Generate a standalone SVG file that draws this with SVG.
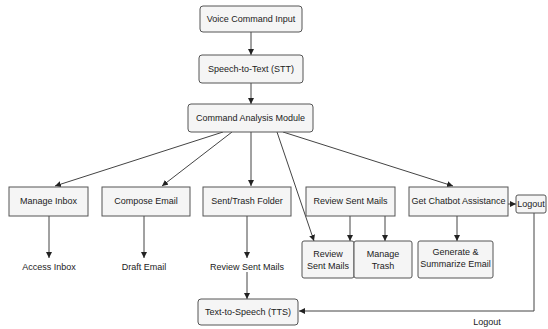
<svg xmlns="http://www.w3.org/2000/svg" width="548" height="329" viewBox="0 0 548 329">
<style>
.box{fill:#f5f5f5;stroke:#555;stroke-width:1}
.t{font-family:"Liberation Sans",Arial,sans-serif;font-size:9px;fill:#222;text-anchor:middle}
.c{fill:none;stroke:#444;stroke-width:1}
</style>
<defs>
<marker id="ah" viewBox="0 0 8 8" refX="8" refY="4" markerWidth="6" markerHeight="6" orient="auto" markerUnits="userSpaceOnUse">
<path d="M0,0 L8,4 L0,8 z" fill="#222"/>
</marker>
</defs>
<rect width="548" height="329" fill="#fff"/>
<g id="connectors">
<line class="c" x1="251" y1="32" x2="251" y2="55" marker-end="url(#ah)"/>
<line class="c" x1="251" y1="83" x2="251" y2="104" marker-end="url(#ah)"/>
<line class="c" x1="223" y1="132" x2="55" y2="186" marker-end="url(#ah)"/>
<line class="c" x1="232" y1="132" x2="162" y2="186" marker-end="url(#ah)"/>
<line class="c" x1="251" y1="132" x2="251" y2="186" marker-end="url(#ah)"/>
<line class="c" x1="277" y1="132" x2="314" y2="241" marker-end="url(#ah)"/>
<line class="c" x1="283" y1="132" x2="453" y2="186" marker-end="url(#ah)"/>
<line class="c" x1="49" y1="216" x2="49" y2="258" marker-end="url(#ah)"/>
<line class="c" x1="144" y1="216" x2="144" y2="258" marker-end="url(#ah)"/>
<line class="c" x1="247" y1="216" x2="247" y2="258" marker-end="url(#ah)"/>
<line class="c" x1="247" y1="272" x2="247" y2="299" marker-end="url(#ah)"/>
<line class="c" x1="350" y1="216" x2="350" y2="241" marker-end="url(#ah)"/>
<line class="c" x1="385" y1="216" x2="385" y2="241" marker-end="url(#ah)"/>
<line class="c" x1="457" y1="216" x2="457" y2="241" marker-end="url(#ah)"/>
<line class="c" x1="508" y1="204" x2="516" y2="204" marker-end="url(#ah)"/>
<polyline class="c" points="534,213 534,311 299,311" marker-end="url(#ah)"/>
<text class="t" x="487" y="325">Logout</text>
</g>
<g id="voice"><rect class="box" x="200" y="6" width="102" height="26" rx="3"/><text class="t" x="251" y="22">Voice Command Input</text></g>
<g id="stt"><rect class="box" x="199" y="55" width="104" height="28" rx="3"/><text class="t" x="251" y="72">Speech-to-Text (STT)</text></g>
<g id="cam"><rect class="box" x="188" y="104" width="125" height="28" rx="3"/><text class="t" x="250.5" y="121">Command Analysis Module</text></g>
<g id="inbox"><rect class="box" x="9" y="187" width="79" height="29"/><text class="t" x="48.5" y="204">Manage Inbox</text></g>
<g id="compose"><rect class="box" x="102" y="187" width="88" height="29"/><text class="t" x="146" y="204">Compose Email</text></g>
<g id="senttrash"><rect class="box" x="203" y="187" width="88" height="29"/><text class="t" x="247" y="204">Sent/Trash Folder</text></g>
<g id="reviewsent"><rect class="box" x="306" y="187" width="89" height="29"/><text class="t" x="350.5" y="204">Review Sent Mails</text></g>
<g id="chatbot"><rect class="box" x="409" y="187" width="99" height="29"/><text class="t" x="458.5" y="204">Get Chatbot Assistance</text></g>
<g id="logout"><rect class="box" x="516" y="195" width="30" height="18" rx="2"/><text class="t" x="531" y="207">Logout</text></g>
<g id="accessinbox"><text class="t" x="49" y="270">Access Inbox</text></g>
<g id="draftemail"><text class="t" x="144" y="270">Draft Email</text></g>
<g id="reviewsentmails"><text class="t" x="247" y="270">Review Sent Mails</text></g>
<g id="reviewsub"><rect class="box" x="302" y="241" width="52" height="37" rx="2"/><text class="t" x="328" y="257">Review</text><text class="t" x="328" y="269">Sent Mails</text></g>
<g id="managetrash"><rect class="box" x="354" y="241" width="58" height="37" rx="2"/><text class="t" x="383" y="257">Manage</text><text class="t" x="383" y="269">Trash</text></g>
<g id="generate"><rect class="box" x="418" y="241" width="75" height="37" rx="2"/><text class="t" x="455.5" y="255">Generate &amp;</text><text class="t" x="455.5" y="267">Summarize Email</text></g>
<g id="tts"><rect class="box" x="198" y="299" width="100" height="26" rx="3"/><text class="t" x="248" y="315">Text-to-Speech (TTS)</text></g>
</svg>
